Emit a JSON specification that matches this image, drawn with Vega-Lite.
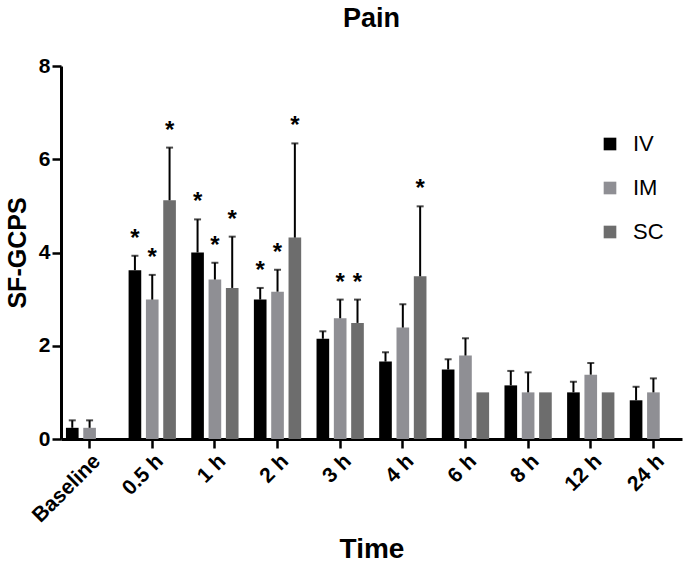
{
  "$schema": "https://vega.github.io/schema/vega-lite/v6.json",
  "autosize": {"type": "none"},
  "padding": {"left": 61, "top": 66, "right": 3, "bottom": 131},
  "width": 621,
  "height": 373,
  "background": "white",
  "title": {"text": "Pain", "font": "Liberation Sans", "fontSize": 27, "fontWeight": "bold", "color": "black", "anchor": "middle", "offset": 22},
  "config": {
    "view": {"stroke": null},
    "font": "Liberation Sans",
    "axis": {"grid": false, "domainColor": "black", "domainWidth": 3, "tickColor": "black", "tickWidth": 2.5, "tickSize": 9, "labelColor": "black", "labelFont": "Liberation Sans", "labelFontWeight": "bold", "labelFontSize": 21, "titleFont": "Liberation Sans", "titleFontWeight": "bold", "titleFontSize": 25, "titleColor": "black"}
  },
  "data": {"values": [
    {"time": "Baseline", "group": "IV", "value": 0.24, "err": 0.40, "star": ""},
    {"time": "Baseline", "group": "IM", "value": 0.24, "err": 0.40, "star": ""},
    {"time": "0.5 h", "group": "IV", "value": 3.62, "err": 3.93, "star": "*"},
    {"time": "0.5 h", "group": "IM", "value": 2.99, "err": 3.52, "star": "*"},
    {"time": "0.5 h", "group": "SC", "value": 5.12, "err": 6.25, "star": "*"},
    {"time": "1 h", "group": "IV", "value": 4.0, "err": 4.71, "star": "*"},
    {"time": "1 h", "group": "IM", "value": 3.42, "err": 3.78, "star": "*"},
    {"time": "1 h", "group": "SC", "value": 3.24, "err": 4.34, "star": "*"},
    {"time": "2 h", "group": "IV", "value": 2.99, "err": 3.24, "star": "*"},
    {"time": "2 h", "group": "IM", "value": 3.16, "err": 3.63, "star": "*"},
    {"time": "2 h", "group": "SC", "value": 4.32, "err": 6.34, "star": "*"},
    {"time": "3 h", "group": "IV", "value": 2.15, "err": 2.31, "star": ""},
    {"time": "3 h", "group": "IM", "value": 2.59, "err": 2.99, "star": "*"},
    {"time": "3 h", "group": "SC", "value": 2.49, "err": 2.99, "star": "*"},
    {"time": "4 h", "group": "IV", "value": 1.66, "err": 1.86, "star": ""},
    {"time": "4 h", "group": "IM", "value": 2.39, "err": 2.89, "star": ""},
    {"time": "4 h", "group": "SC", "value": 3.49, "err": 4.99, "star": "*"},
    {"time": "6 h", "group": "IV", "value": 1.49, "err": 1.71, "star": ""},
    {"time": "6 h", "group": "IM", "value": 1.79, "err": 2.16, "star": ""},
    {"time": "6 h", "group": "SC", "value": 1.0, "err": 1.0, "star": ""},
    {"time": "8 h", "group": "IV", "value": 1.15, "err": 1.46, "star": ""},
    {"time": "8 h", "group": "IM", "value": 1.0, "err": 1.43, "star": ""},
    {"time": "8 h", "group": "SC", "value": 1.0, "err": 1.0, "star": ""},
    {"time": "12 h", "group": "IV", "value": 1.0, "err": 1.23, "star": ""},
    {"time": "12 h", "group": "IM", "value": 1.38, "err": 1.63, "star": ""},
    {"time": "12 h", "group": "SC", "value": 1.0, "err": 1.0, "star": ""},
    {"time": "24 h", "group": "IV", "value": 0.83, "err": 1.12, "star": ""},
    {"time": "24 h", "group": "IM", "value": 1.0, "err": 1.30, "star": ""}
  ]},
  "encoding": {
    "x": {"field": "time", "type": "nominal", "sort": ["Baseline", "0.5 h", "1 h", "2 h", "3 h", "4 h", "6 h", "8 h", "12 h", "24 h"],
      "scale": {"paddingInner": 0.245, "paddingOuter": 0.079},
      "axis": {"title": "Time", "labelAngle": -45, "labelPadding": 2, "titlePadding": 10, "titleFontSize": 28}},
    "xOffset": {"field": "group", "type": "nominal", "sort": ["IV", "IM", "SC"], "scale": {"domain": ["IV", "IM", "SC"], "paddingInner": 0.27, "paddingOuter": 0}}
  },
  "layer": [
    {
      "mark": {"type": "bar"},
      "encoding": {
        "y": {"field": "value", "type": "quantitative", "scale": {"domain": [0, 8], "nice": false}, "axis": {"title": "SF-GCPS", "values": [0, 2, 4, 6, 8], "labelPadding": 2, "titlePadding": 8}},
        "color": {"field": "group", "type": "nominal", "scale": {"domain": ["IV", "IM", "SC"], "range": ["#000000", "#8f8f94", "#6d6d6d"]},
          "legend": {"title": null, "orient": "none", "legendX": 538, "legendY": 67, "symbolType": "square", "symbolSize": 160, "symbolStrokeWidth": 0, "labelFontSize": 22, "labelFont": "Liberation Sans", "labelColor": "black", "labelOffset": 12, "rowPadding": 22, "padding": 0}}
      }
    },
    {
      "transform": [{"filter": "datum.err > datum.value"}],
      "mark": {"type": "rule", "color": "black", "strokeWidth": 2},
      "encoding": {"y": {"field": "value", "type": "quantitative"}, "y2": {"field": "err"}}
    },
    {
      "transform": [{"filter": "datum.err > datum.value"}],
      "mark": {"type": "tick", "color": "black", "thickness": 2, "size": 7, "orient": "horizontal"},
      "encoding": {"y": {"field": "err", "type": "quantitative"}}
    },
    {
      "mark": {"type": "text", "font": "Liberation Sans", "fontSize": 24, "fontWeight": "bold", "color": "black", "baseline": "alphabetic", "dy": -10},
      "encoding": {"y": {"field": "err", "type": "quantitative"}, "text": {"field": "star"}}
    }
  ]
}
